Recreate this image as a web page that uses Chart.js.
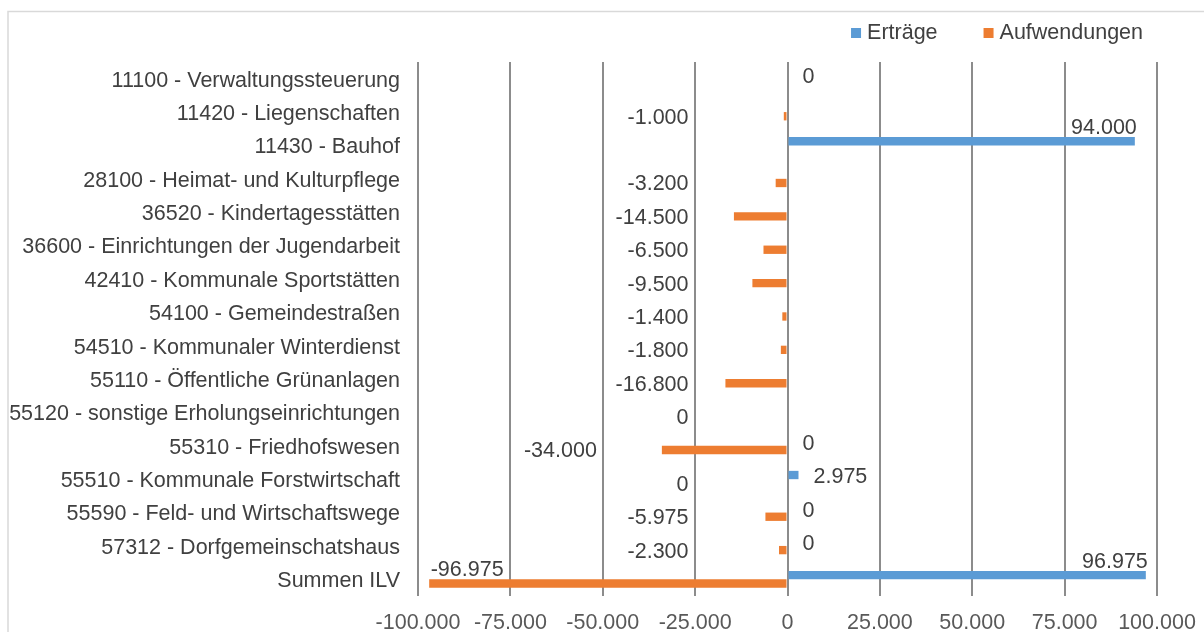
<!DOCTYPE html>
<html>
<head>
<meta charset="utf-8">
<script src="https://cdn.jsdelivr.net/npm/chart.js@4.4.1/dist/chart.umd.min.js"></script>
<style>
  html, body { margin: 0; padding: 0; background: #ffffff; }
  #wrap { width: 1204px; height: 632px; position: relative; }
</style>
</head>
<body>
<div id="wrap"><canvas id="c" width="1204" height="632"></canvas></div>
<script>
// ---- data ----
const categories = [
  '11100 - Verwaltungssteuerung',
  '11420 - Liegenschaften',
  '11430 - Bauhof',
  '28100 - Heimat- und Kulturpflege',
  '36520 - Kindertagesstätten',
  '36600 - Einrichtungen der Jugendarbeit',
  '42410 - Kommunale Sportstätten',
  '54100 - Gemeindestraßen',
  '54510 - Kommunaler Winterdienst',
  '55110 - Öffentliche Grünanlagen',
  '55120 - sonstige Erholungseinrichtungen',
  '55310 - Friedhofswesen',
  '55510 - Kommunale Forstwirtschaft',
  '55590 - Feld- und Wirtschaftswege',
  '57312 - Dorfgemeinschatshaus',
  'Summen ILV'
];
const seriesNames = ['Erträge', 'Aufwendungen'];
const ertraege = [0, null, 94000, null, null, null, null, null, null, null, null, 0, 2975, 0, 0, 96975];
const aufwendungen = [null, -1000, null, -3200, -14500, -6500, -9500, -1400, -1800, -16800, 0, -34000, 0, -5975, -2300, -96975];
const xMin = -100000;
const xMax = 100000;
const xStep = 25000;

// ---- helpers ----
function fmtDE(v) {
  const s = Math.round(Math.abs(v)).toString().replace(/\B(?=(\d{3})+(?!\d))/g, '.');
  return (v < 0 ? '-' : '') + s;
}
const FONT = "'Liberation Sans', Arial, sans-serif";
const FSIZE = 21.5;
const TEXT_DARK = '#404040';
const TEXT_TICK = '#595959';
const BLUE = '#5B9BD5';
const ORANGE = '#ED7D31';

const framePlugin = {
  id: 'frame',
  beforeDraw(chart) {
    const ctx = chart.ctx;
    ctx.save();
    ctx.strokeStyle = '#d9d9d9';
    ctx.lineWidth = 1.5;
    ctx.beginPath();
    ctx.moveTo(8, chart.height);
    ctx.lineTo(8, 11.5);
    ctx.lineTo(chart.width, 11.5);
    ctx.stroke();
    ctx.restore();
  }
};

const legendPlugin = {
  id: 'customLegend',
  afterDraw(chart) {
    const ctx = chart.ctx;
    ctx.save();
    ctx.font = FSIZE + 'px ' + FONT;
    ctx.textBaseline = 'middle';
    ctx.textAlign = 'left';
    const y = 33;
    const box = 10, gapText = 6, gapItem = 46;
    const ds = chart.data.datasets;
    let x = chart.chartArea.right - 14;
    const items = [];
    for (let i = ds.length - 1; i >= 0; i--) {
      const w = ctx.measureText(ds[i].label).width;
      const textX = x - w;
      const boxX = textX - gapText - box;
      items.push({ text: ds[i].label, color: ds[i].backgroundColor, textX, boxX });
      x = boxX - gapItem;
    }
    items.forEach(it => {
      ctx.fillStyle = it.color;
      ctx.fillRect(it.boxX, y - box / 2, box, box);
      ctx.fillStyle = TEXT_DARK;
      ctx.fillText(it.text, it.textX, y);
    });
    ctx.restore();
  }
};

const labelPlugin = {
  id: 'barLabels',
  afterDatasetsDraw(chart) {
    const ctx = chart.ctx;
    const xs = chart.scales.x;
    const zero = xs.getPixelForValue(0);
    ctx.save();
    ctx.font = FSIZE + 'px ' + FONT;
    ctx.fillStyle = TEXT_DARK;
    ctx.textBaseline = 'middle';
    chart.data.datasets.forEach((ds, di) => {
      const meta = chart.getDatasetMeta(di);
      meta.data.forEach((bar, i) => {
        const v = ds.data[i];
        if (v === null || v === undefined) return;
        const txt = fmtDE(v);
        const end = bar.x;
        const cy = bar.y + 1.5;
        if (di === 0) {
          if (end - zero > 200) {
            ctx.textAlign = 'right';
            ctx.fillText(txt, end + 2, cy - 15);
          } else {
            ctx.textAlign = 'left';
            ctx.fillText(txt, end + 15, cy + 1);
          }
        } else {
          const anchor = zero - 99;
          if (end < anchor - 200) {
            ctx.textAlign = 'left';
            ctx.fillText(txt, end + 1.5, cy - 15);
          } else if (end < anchor) {
            ctx.textAlign = 'right';
            ctx.fillText(txt, end - 65, cy);
          } else {
            ctx.textAlign = 'right';
            ctx.fillText(txt, anchor, cy);
          }
        }
      });
    });
    ctx.restore();
  }
};

new Chart(document.getElementById('c'), {
  type: 'bar',
  data: {
    labels: categories,
    datasets: [
      { label: seriesNames[0], data: ertraege, backgroundColor: BLUE, borderWidth: 0 },
      { label: seriesNames[1], data: aufwendungen, backgroundColor: ORANGE, borderWidth: 0 }
    ]
  },
  options: {
    indexAxis: 'y',
    responsive: false,
    animation: false,
    devicePixelRatio: 1,
    categoryPercentage: 0.5,
    barPercentage: 1.0,
    layout: { padding: { left: 10, right: 47, top: 62, bottom: 0 } },
    plugins: {
      legend: { display: false },
      tooltip: { enabled: false }
    },
    scales: {
      x: {
        type: 'linear',
        min: xMin,
        max: xMax,
        afterFit(scale) {
          scale.height = 36;
          scale.paddingLeft = 0; scale.paddingRight = 0;
        },
        ticks: {
          stepSize: xStep,
          color: TEXT_TICK,
          font: { family: FONT, size: FSIZE },
          padding: 14,
          maxRotation: 0,
          callback: (v) => fmtDE(v)
        },
        grid: { color: '#8c8c8c', lineWidth: 2, drawTicks: false },
        border: { display: false }
      },
      y: {
        type: 'category',
        afterFit(scale) {
          scale.width = 408;
          scale.paddingTop = 0; scale.paddingBottom = 0;
        },
        ticks: {
          color: TEXT_DARK,
          font: { family: FONT, size: FSIZE },
          padding: 18,
          labelOffset: 2,
          autoSkip: false
        },
        grid: { display: false, drawTicks: false },
        border: { display: false }
      }
    }
  },
  plugins: [framePlugin, legendPlugin, labelPlugin]
});
</script>
</body>
</html>
